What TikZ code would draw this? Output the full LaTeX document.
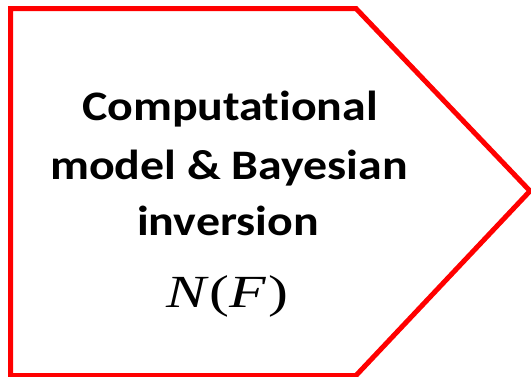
\documentclass[tikz,border=0pt]{standalone}
\usepackage{graphicx}
\usepackage{fontspec}
\setmainfont[Ligatures={NoCommon}]{Carlito}
\newfontfamily\tnr{Liberation Serif}
\begin{document}
\begin{tikzpicture}[x=1pt,y=-1pt,
  boxline/.style={draw=red, line width=5pt, fill=white, line join=miter},
  label/.style={font=\fontsize{42}{55}\selectfont\bfseries, text=black, anchor=base, inner sep=0pt},
  mathlabel/.style={font=\fontsize{46}{54}\selectfont\tnr, text=black, anchor=base, inner sep=0pt}]
\useasboundingbox (0,0) rectangle (531,376);
\coordinate (tl) at (10.5,8.5);
\coordinate (tr) at (356,8.5);
\coordinate (tip) at (530,191);
\coordinate (br) at (356,375.5);
\coordinate (bl) at (10.5,375.5);
\draw[boxline] (tl) -- (tr) -- (tip) -- (br) -- (bl) -- cycle;
\node[label] (l1) at (230,120) {\scalebox{1.14}[1]{Computational}};
\node[label] (l2) at (229,179) {\scalebox{1.14}[1]{model \& Bayesian}};
\node[label] (l3) at (228,235.5) {\scalebox{1.14}[1]{inversion}};
\node[mathlabel] (nf) at (227.5,307) {\scalebox{1.3}[1]{\itshape N\kern0.06em\upshape(\itshape F\kern0.04em\upshape)}};
\end{tikzpicture}
\end{document}
